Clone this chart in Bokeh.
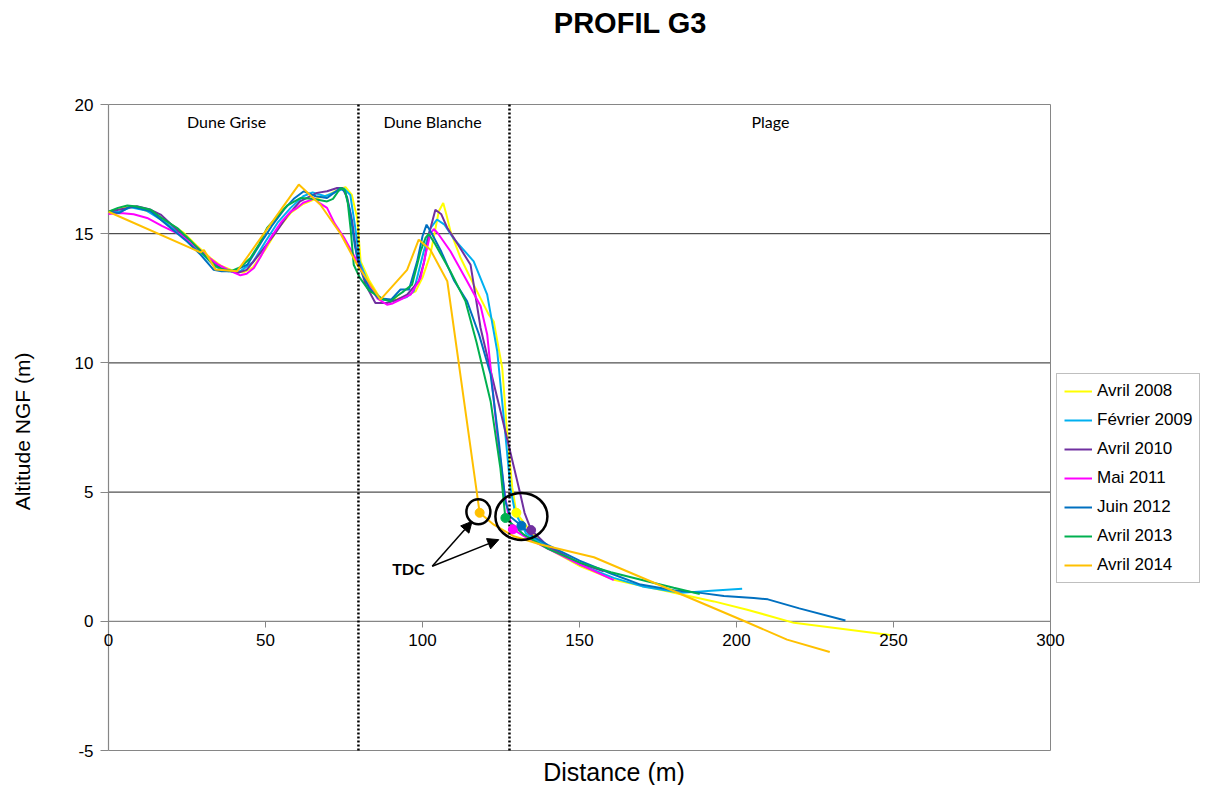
from bokeh.plotting import figure
from bokeh.models import Range1d, FixedTicker, Label, Arrow, NormalHead
from bokeh.core.properties import value
from bokeh.embed import file_html
from bokeh.resources import INLINE
import math

# ---------------- data ----------------
series_names = ["Avril 2008", "Février 2009", "Avril 2010", "Mai 2011",
                "Juin 2012", "Avril 2013", "Avril 2014"]
series_colors = ["#FFFF00", "#00B0F0", "#7030A0", "#FF00FF",
                 "#0070C0", "#00B050", "#FFC000"]

dist_2008 = [0, 4, 8, 14, 20, 24, 28, 32.5, 36, 40, 43, 46, 50, 54, 58, 62, 66, 70, 73, 75.5,
             77.5, 79.2, 80.3, 83, 86.5, 90, 94, 97.8, 100, 102.5, 105.2, 106.6, 107.6, 108.9, 112,
             116.3, 121.1, 122.7, 125.4, 127, 128.6, 129.9, 134.4, 139.7, 150.3, 160.9, 177.9,
             192.8, 203.4, 218.3, 235.2, 249.5]
alt_2008 = [15.85, 16.0, 16.06, 15.8, 15.35, 15.03, 14.55, 14.06, 13.75, 13.55, 13.5, 13.7, 14.4,
            15.2, 15.8, 16.15, 16.35, 16.5, 16.7, 16.8, 16.5, 15.6, 13.93, 13.2, 12.5, 12.4, 12.55,
            12.77, 13.3, 14.19, 15.87, 16.19, 15.74, 15.1, 14.1, 13.03, 11.87, 11.6, 9.8, 7.22,
            5.16, 4.2, 3.48, 2.84, 2.13, 1.61, 1.16, 0.77, 0.45, -0.06, -0.32, -0.54]

dist_2009 = [0, 3.5, 7, 12, 18, 24, 30, 34, 38, 42, 46, 50, 54, 58, 62, 65, 69, 72, 75, 77,
             78.5, 80, 83, 87, 91, 95, 97.2, 100.4, 102.5, 104.6, 107, 110, 116.3, 120.6, 123.8,
             126.4, 128, 129.5, 133, 140, 150, 160.9, 170, 182.2, 192, 201.8]
alt_2009 = [15.8, 15.85, 16.02, 15.9, 15.45, 14.85, 14.2, 13.72, 13.55, 13.55, 13.9, 14.7, 15.45,
            16.0, 16.45, 16.6, 16.45, 16.6, 16.75, 16.5, 15.3, 13.9, 13.0, 12.45, 12.4, 12.55,
            12.77, 14.32, 15.2, 15.55, 15.35, 14.8, 13.93, 12.64, 10.45, 7.22, 5.16, 4.2, 3.4,
            2.85, 2.2, 1.68, 1.35, 1.1, 1.18, 1.26]

dist_2010 = [0, 4, 9, 13, 16.6, 22.9, 27, 31.4, 35.7, 41, 44, 48, 53, 57, 61, 66.4, 69.6, 72.8,
             74.5, 76, 77.6, 79.2, 82, 85, 88.7, 92, 95.1, 98.8, 100.5, 102, 104.1, 106, 108, 110,
             115.3, 118.5, 121.7, 125, 129.1, 131.2, 132.5, 134.6, 140, 150, 157.7]
alt_2010 = [15.85, 15.95, 16.06, 15.95, 15.74, 15.03, 14.6, 14.13, 13.67, 13.48, 13.6, 14.2, 15.0,
            15.7, 16.25, 16.58, 16.64, 16.77, 16.77, 16.4, 15.48, 14.06, 13.0, 12.32, 12.32, 12.45,
            12.64, 13.16, 13.9, 14.96, 15.93, 15.75, 15.2, 14.83, 13.8, 11.35, 9.7, 8.05, 5.97,
            4.9, 4.2, 3.53, 2.9, 2.25, 1.93]

dist_2011 = [0, 3.8, 8, 12.3, 17, 22.9, 27, 31.4, 35, 38.9, 42, 44, 46.3, 48.4, 51.6, 55, 58,
             60.1, 62, 64.3, 65.4, 67, 69.6, 72, 75, 79.2, 82, 85.6, 88.7, 90.5, 93, 96.2, 99.4,
             101, 102.5, 103.6, 105, 108.9, 114.2, 118.5, 120.6, 121.7, 123.8, 125.9, 127.2,
             128.8, 133, 140, 150, 160.9]
alt_2011 = [15.76, 15.8, 15.75, 15.61, 15.3, 14.96, 14.55, 14.13, 13.8, 13.55, 13.39, 13.45,
            13.67, 14.1, 14.83, 15.45, 15.85, 16.0, 16.2, 16.3, 16.38, 16.2, 16.0, 15.4, 14.85,
            13.93, 13.2, 12.5, 12.25, 12.3, 12.45, 12.64, 13.29, 14.2, 15.0, 15.18, 15.0, 14.32,
            13.16, 12.2, 11.1, 9.8, 7.22, 5.16, 4.2, 3.56, 3.25, 2.8, 2.2, 1.59]

dist_2012 = [0, 3.3, 7, 13.4, 20, 25, 29.3, 33.5, 36, 39.9, 44.2, 49.5, 52, 56, 59, 62.2, 66,
             69.6, 72, 73.9, 75.5, 77, 78.5, 80, 83, 86, 90, 93, 95.7, 98.3, 100, 101.3, 103, 106,
             110, 114.2, 118, 121.7, 124.3, 126.4, 128, 131.5, 135, 140, 150, 160, 169.4, 180,
             188.5, 196, 205.5, 210, 220, 234.7]
alt_2012 = [15.85, 15.8, 16.06, 15.87, 15.2, 14.7, 14.19, 13.6, 13.55, 13.55, 13.8, 14.83, 15.3,
            15.95, 16.35, 16.64, 16.45, 16.38, 16.6, 16.77, 16.6, 15.8, 14.5, 13.7, 12.9, 12.5,
            12.45, 12.84, 12.84, 13.93, 14.9, 15.35, 15.0, 14.3, 13.2, 12.38, 11.1, 9.55, 6.97,
            4.64, 4.05, 3.7, 3.3, 2.95, 2.35, 1.85, 1.42, 1.2, 1.1, 0.98, 0.9, 0.85, 0.5, 0.03]

dist_2013 = [0, 3, 6, 9, 13.4, 17, 21.9, 26, 29.3, 33.5, 36, 39.4, 42, 45.2, 48, 50.5, 54, 57,
             61.1, 65, 69.6, 71.5, 73.9, 75.2, 76.2, 77.1, 78.1, 80, 83, 87.7, 89.8, 92, 94, 96.7,
             99.4, 101, 102, 104, 108.9, 113.7, 117.2, 121.7, 124.8, 126.4, 132.3, 140, 150.3,
             160, 171.5, 180, 188.3]
alt_2013 = [15.85, 16.0, 16.09, 16.05, 15.93, 15.6, 15.22, 14.75, 14.32, 13.8, 13.62, 13.57,
            13.7, 14.06, 14.6, 15.22, 15.7, 16.1, 16.38, 16.35, 16.25, 16.35, 16.77, 16.7, 16.2,
            15.2, 13.8, 13.3, 12.8, 12.45, 12.38, 12.6, 12.77, 13.03, 14.32, 14.85, 14.99, 14.6,
            13.54, 12.38, 10.8, 8.51, 5.93, 4.0, 3.35, 2.8, 2.26, 1.9, 1.55, 1.3, 1.06]

dist_2014 = [0, 29.3, 30.4, 34.1, 41, 60.6, 67.5, 73.9, 79.2, 86.6, 95.1, 98.8, 102.5, 107.9,
             118.2, 122.7, 129.1, 137.6, 154.6, 201.3, 216.1, 229.7]
alt_2014 = [15.85, 14.28, 14.37, 13.61, 13.55, 16.9, 16.12, 15.0, 13.8, 12.45, 13.6, 14.77,
            14.38, 13.16, 4.2, 3.74, 3.29, 2.97, 2.48, 0.07, -0.71, -1.19]

series_dist = [dist_2008, dist_2009, dist_2010, dist_2011, dist_2012, dist_2013, dist_2014]
series_alt = [alt_2008, alt_2009, alt_2010, alt_2011, alt_2012, alt_2013, alt_2014]

# TDC points
tdc_series = ["Avril 2008", "Avril 2010", "Mai 2011", "Juin 2012", "Avril 2013", "Avril 2014"]
tdc_dist = [129.9, 134.6, 128.8, 131.5, 126.4, 118.2]
tdc_alt = [4.2, 3.53, 3.56, 3.7, 4.0, 4.2]

# zones
zone_bounds = [79.6, 127.7]
zone_names = ["Dune Grise", "Dune Blanche", "Plage"]
zone_label_x = [37.6, 103.2, 210.8]
zone_label_y = [19.35, 19.35, 19.35]

circle_x = [117.8, 131.5]
circle_y = [4.24, 4.06]
circle_w = [24, 52]
circle_h = [25, 47]
arrow_start = (103.1, 2.13)
arrow_ends = [(115.8, 3.87), (124.3, 3.16)]
tdc_label_pos = (95.5, 2.05)

x_min, x_max = 0, 300
y_min, y_max = -5, 20
x_ticks = [0, 50, 100, 150, 200, 250, 300]
y_ticks = [-5, 0, 5, 10, 15, 20]
grid_ticks = [5, 10, 15]

AX = "#868686"
FONT = "Liberation Sans"

# ---------------- geometry (pixels) ----------------
W, H = 1201, 785
PL, PR, PT, PB = 108, 1050, 104, 750          # plot area in pixels
sx = (PR - PL) / (x_max - x_min)
sy = (PB - PT) / (y_max - y_min)
xr = Range1d(x_min - PL / sx, x_min + (W - PL) / sx)
yr = Range1d(y_max - (H - PT) / sy, y_max + PT / sy)

p = figure(width=W, height=H, x_range=xr, y_range=yr, output_backend="svg",
           toolbar_location=None, min_border=0)
p.background_fill_color = "white"
p.border_fill_color = "white"
p.outline_line_color = None
p.xgrid.visible = False
p.ygrid.visible = False

# gridlines
p.segment(x0=[x_min] * len(grid_ticks), y0=grid_ticks, x1=[x_max] * len(grid_ticks),
          y1=grid_ticks, line_color="#262626", line_width=1)
# plot-area border
p.segment(x0=[x_min, x_max, x_min], y0=[y_max, y_min, y_min],
          x1=[x_max, x_max, x_max], y1=[y_max, y_max, y_min], line_color=AX, line_width=1)

# axes at the origin
xa = p.xaxis[0]
xa.fixed_location = 0
xa.ticker = FixedTicker(ticks=x_ticks)
xa.axis_line_color = None
xa.major_tick_line_color = AX
xa.major_tick_in = 0
xa.major_tick_out = 6
xa.minor_tick_line_color = None
xa.major_label_text_font = FONT
xa.major_label_text_font_size = "17px"
xa.major_label_text_color = "black"
xa.major_label_standoff = 7

ya = p.yaxis[0]
ya.fixed_location = 0
ya.ticker = FixedTicker(ticks=y_ticks)
ya.axis_line_color = None
ya.major_tick_line_color = AX
ya.major_tick_in = 0
ya.major_tick_out = 8
ya.minor_tick_line_color = None
ya.major_label_text_font = FONT
ya.major_label_text_font_size = "17px"
ya.major_label_text_color = "black"
ya.major_label_standoff = 7
ya.major_label_overrides = {-5: "-5"}

p.segment(x0=[x_min, 0], y0=[0, y_min], x1=[x_max, 0], y1=[0, y_max], line_color=AX, line_width=1.2)

# series
for name, xs, ys, c in zip(series_names, series_dist, series_alt, series_colors):
    p.line(xs, ys, line_color=c, line_width=2, legend_label=name)

# zone boundaries (dotted)
p.segment(x0=zone_bounds, y0=[y_min] * len(zone_bounds), x1=zone_bounds,
          y1=[y_max] * len(zone_bounds), line_color="black", line_width=2.5, line_dash="2 2")

p.text(x=zone_label_x, y=zone_label_y, text=zone_names, text_font=value("Lato"),
       text_font_size="16px", text_align="center", text_baseline="middle", text_color="black")

# TDC dots
color_of = dict(zip(series_names, series_colors))
p.scatter(tdc_dist, tdc_alt, size=9, fill_color=[color_of[s] for s in tdc_series],
          line_color=[color_of[s] for s in tdc_series])

p.ellipse(x=circle_x, y=circle_y, width=circle_w, height=circle_h,
          width_units="screen", height_units="screen",
          fill_color=None, line_color="black", line_width=2.5)

for ex, ey in arrow_ends:
    p.add_layout(Arrow(end=NormalHead(size=11, fill_color="black", line_color="black", line_width=1),
                       x_start=arrow_start[0], y_start=arrow_start[1], x_end=ex, y_end=ey,
                       line_color="black", line_width=1.5))

p.text(x=[tdc_label_pos[0]], y=[tdc_label_pos[1]], text=["TDC"], text_font=value("Lato"),
       text_font_style="bold", text_font_size="16px", text_align="center",
       text_baseline="middle", text_color="black")

# titles
p.add_layout(Label(x=166.2, y=23.17, text="PROFIL G3", text_font=FONT, text_font_style="bold",
                   text_font_size="29px", text_align="center", text_baseline="middle",
                   text_color="black"))
p.add_layout(Label(x=162.1, y=-5.85, text="Distance  (m)", text_font=FONT,
                   text_font_size="25px", text_align="center", text_baseline="middle",
                   text_color="black"))
p.add_layout(Label(x=-27.4, y=7.35, text="Altitude NGF (m)", text_font=FONT,
                   text_font_size="21px", text_align="center", text_baseline="middle",
                   angle=math.pi / 2, text_color="black"))

# legend
lg = p.legend[0]
lg.location = (1056, H - 583)
lg.margin = 0
lg.padding = 7
lg.spacing = 9
lg.glyph_width = 28
lg.glyph_height = 20
lg.label_height = 20
lg.label_standoff = 5
lg.label_text_font = FONT
lg.label_text_font_size = "17px"
lg.label_text_color = "black"
lg.border_line_color = "#7f7f7f"
lg.border_line_width = 1.2
lg.background_fill_color = "white"
lg.background_fill_alpha = 1.0

open("out.html", "w").write(file_html(p, INLINE))
